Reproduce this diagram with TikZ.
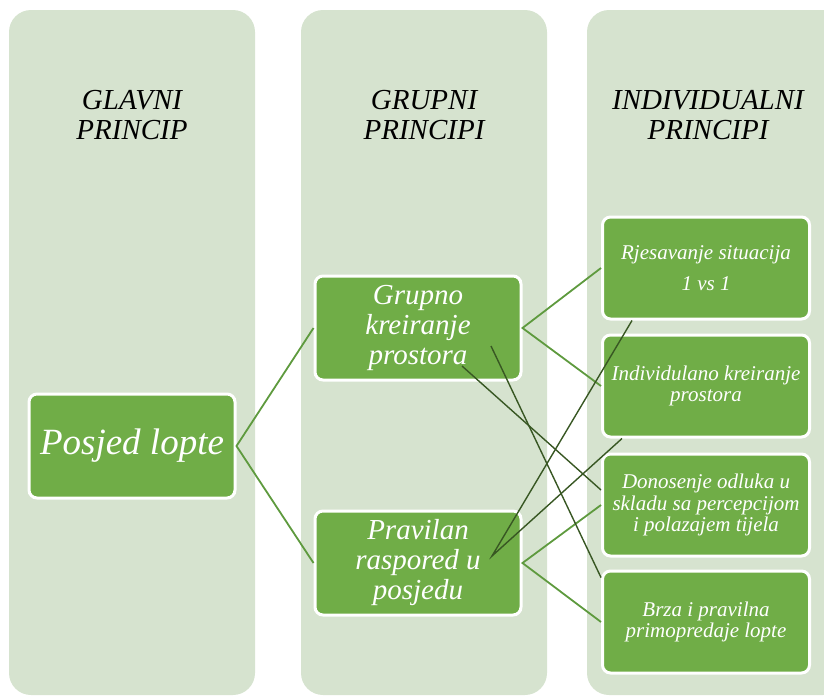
\documentclass[tikz,border=0pt]{standalone}
\usepackage{fontspec}
\setmainfont{Liberation Serif}
\usepackage{xcolor}
\definecolor{colbg}{HTML}{D6E3CF}
\definecolor{boxgreen}{HTML}{70AD47}
\definecolor{linkgreen}{HTML}{5E9A3E}
\definecolor{darklink}{HTML}{385723}

\begin{document}
\begin{tikzpicture}[x=1pt,y=-1pt,font=\itshape,
  column/.style={fill=colbg,rounded corners=22pt},
  head/.style={align=center,font=\itshape\fontsize{29}{30}\selectfont},
  item/.style={draw=white,line width=3pt,fill=boxgreen,rounded corners=8pt,
    text=white,align=center,inner sep=2pt},
  bigitem/.style={item,minimum width=206pt,minimum height=104pt},
  smallitem/.style={item,minimum width=207pt,minimum height=102pt,
    font=\itshape\fontsize{21}{21.5}\selectfont},
  link/.style={linkgreen,line width=1.8pt},
  cross/.style={darklink,line width=1.4pt}]

\useasboundingbox (0,0) rectangle (824,696);

% columns
\fill[column] (9,10) rectangle (255,695);
\fill[column] (301,10) rectangle (547,695);
\fill[column] (587,10) rectangle (845,695);

% headers
\node[head] (h1) at (132,115) {GLAVNI\\PRINCIP};
\node[head] (h2) at (424,115) {GRUPNI\\PRINCIPI};
\node[head] (h3) at (708,115) {INDIVIDUALNI\\PRINCIPI};

% main principle
\node[bigitem,font=\itshape\fontsize{37}{40}\selectfont] (posjed) at (132,446) {Posjed lopte};

% group principles
\node[bigitem,font=\itshape\fontsize{29}{30}\selectfont] (grupno) at (418,328) {Grupno\\kreiranje\\prostora};
\node[bigitem,font=\itshape\fontsize{29}{30}\selectfont] (pravilan) at (418,563) {Pravilan\\raspored u\\posjedu};

% individual principles
\node[smallitem,font=\itshape\fontsize{21}{31}\selectfont] (rjes) at (706,268) {Rjesavanje situacija\\1 vs 1};
\node[smallitem] (indiv) at (706,386) {Individulano kreiranje\\prostora};
\node[smallitem] (dono) at (706,505) {Donosenje odluka u\\skladu sa percepcijom\\i polazajem tijela};
\node[smallitem] (brza) at (706,622) {Brza i pravilna\\primopredaje lopte};

% links
\draw[link] (grupno.west) -- (posjed.east) -- (pravilan.west);
\draw[link] (rjes.west) -- (grupno.east) -- (indiv.west);
\draw[link] (dono.west) -- (pravilan.east) -- (brza.west);

% crossing links
\coordinate (g1) at ([xshift=44pt,yshift=-38pt]grupno.center);
\coordinate (g2) at ([xshift=73pt,yshift=-18pt]grupno.center);
\coordinate (p1) at ([xshift=74pt,yshift=7pt]pravilan.center);
\draw[cross] (g1) -- ([yshift=15pt]dono.west);
\draw[cross] (g2) -- ([yshift=-8pt]brza.north west);
\draw[cross] ([xshift=31pt]rjes.south west) -- (p1) -- ([xshift=21pt]indiv.south west);

\end{tikzpicture}
\end{document}
